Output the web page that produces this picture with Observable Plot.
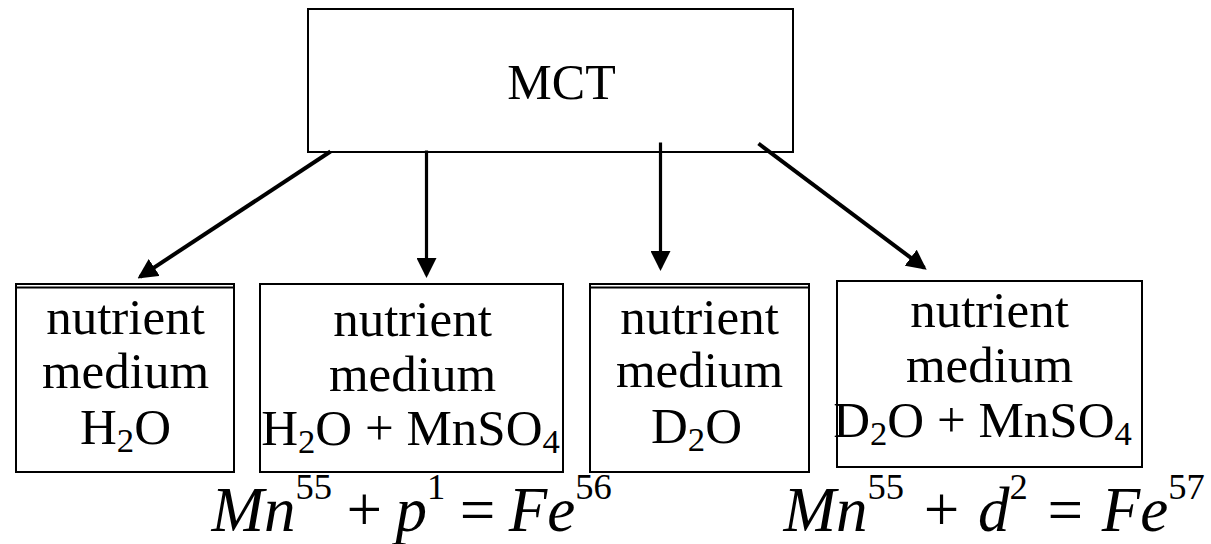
<!DOCTYPE html>
<html>
<head>
<meta charset="utf-8">
<script src="https://cdn.jsdelivr.net/npm/d3@7"></script>
<script src="https://cdn.jsdelivr.net/npm/@observablehq/plot@0.6"></script>
<style>
  html, body { margin: 0; padding: 0; background: #fff; }
  #chart svg { display: block; }
</style>
</head>
<body>
<div id="chart"></div>
<script>
// ---------- content ----------
const sourceLabel = ["MCT"];
const mediumLines = [
  ["nutrient", "medium", "H{_2}O"],
  ["nutrient", "medium", "H{_2}O + MnSO{_4}"],
  ["nutrient", "medium", "D{_2}O"],
  ["nutrient", "medium", "D{_2}O + MnSO{_4}"]
];
const reactions = ["Mn{^55} + p{^1} = Fe{^56}", "Mn{^55} + d{^2} = Fe{^57}"];

// ---------- layout (coordinates in the 1211 x 544 frame) ----------
const W = 1211, H = 544;
const sourceBox = {x1: 308, x2: 793, y1: 9, y2: 152, lx: 561, ly: 98};
const mediumBoxes = [
  {x1: 16,  x2: 234,  y1: 284, y2: 472, xs: [125, 125, 125], ys: [333, 387, 443], doubleTop: true},
  {x1: 260, x2: 563,  y1: 284, y2: 472, xs: [412, 412, 410], ys: [335, 390, 444], doubleTop: false},
  {x1: 590, x2: 809,  y1: 284, y2: 472, xs: [699, 699, 696], ys: [333, 386, 442], doubleTop: true},
  {x1: 837, x2: 1142, y1: 281, y2: 467, xs: [989, 989, 982], ys: [326, 381, 436], doubleTop: false}
];
const arrowLinks = [
  {x1: 330, y1: 151, x2: 139.5, y2: 276.3, w: 4},
  {x1: 426, y1: 150, x2: 426, y2: 274.5, w: 3.2},
  {x1: 660, y1: 142, x2: 660, y2: 267.5, w: 3.2},
  {x1: 758, y1: 143, x2: 923.8, y2: 267.4, w: 4}
];
const reactionPos = [{x: 211, y: 530, gap: "\u2006"}, {x: 783, y: 530, gap: " "}];

// ---------- tables built from the arrays ----------
const boxRows = [{...sourceBox}, ...mediumBoxes.map(b => ({...b}))];
const sourceText = sourceLabel.map(t => ({text: t, x: sourceBox.lx, y: sourceBox.ly}));
const mediumText = mediumLines.flatMap((lines, i) =>
  lines.map((t, j) => ({text: t, x: mediumBoxes[i].xs[j], y: mediumBoxes[i].ys[j]})));
const reactionText = reactions.map((t, i) => ({
  text: t.replace(/ /g, reactionPos[i].gap), x: reactionPos[i].x, y: reactionPos[i].y
}));
const doubleTops = mediumBoxes.filter(b => b.doubleTop);

function filledHead(color) {
  const ns = "http://www.w3.org/2000/svg";
  const m = document.createElementNS(ns, "marker");
  m.setAttribute("viewBox", "0 -5 10 10");
  m.setAttribute("markerUnits", "userSpaceOnUse");
  m.setAttribute("markerWidth", 20);
  m.setAttribute("markerHeight", 20);
  m.setAttribute("refX", 8.5);
  m.setAttribute("refY", 0);
  m.setAttribute("orient", "auto");
  m.setAttribute("preserveAspectRatio", "none");
  const p = document.createElementNS(ns, "path");
  p.setAttribute("d", "M0,-5L10,0L0,5Z");
  p.setAttribute("fill", color);
  p.setAttribute("stroke", "none");
  m.appendChild(p);
  return m;
}

const serif = "'Liberation Serif', 'Times New Roman', Times, serif";

const plot = Plot.plot({
  width: W,
  height: H,
  margin: 0,
  style: {background: "#fff", fontFamily: serif},
  x: {domain: [0, W], range: [0, W], axis: null},
  y: {domain: [0, H], range: [0, H], axis: null},
  marks: [
    Plot.rect(boxRows, {x1: "x1", x2: "x2", y1: "y1", y2: "y2", fill: "none", stroke: "black", strokeWidth: 2}),
    Plot.link(doubleTops, {x1: "x1", x2: "x2", y1: d => d.y1 + 3, y2: d => d.y1 + 3, stroke: "black", strokeWidth: 2}),
    Plot.link(arrowLinks, {x1: "x1", y1: "y1", x2: "x2", y2: "y2", stroke: "black", strokeWidth: d => d.w, markerEnd: filledHead}),
    Plot.text(sourceText, {x: "x", y: "y", text: "text", fontFamily: serif, fontSize: 50, fill: "black", textAnchor: "middle", lineAnchor: "bottom"}),
    Plot.text(mediumText, {x: "x", y: "y", text: "text", fontFamily: serif, fontSize: 51, fill: "black", textAnchor: "middle", lineAnchor: "bottom"}),
    Plot.text(reactionText, {x: "x", y: "y", text: "text", fontFamily: serif, fontSize: 63, fontStyle: "italic", fill: "black", textAnchor: "start", lineAnchor: "bottom"})
  ]
});

document.getElementById("chart").appendChild(plot);

// turn {_x} / {^x} markup into real sub/superscript tspans
const NS = "http://www.w3.org/2000/svg";
plot.querySelectorAll("text").forEach(el => {
  const s = el.textContent;
  if (!/\{[_^]/.test(s)) return;
  const fs = parseFloat(getComputedStyle(el).fontSize);
  el.textContent = "";
  let shift = 0;
  s.split(/(\{[_^][^}]*\})/).filter(Boolean).forEach(part => {
    const t = document.createElementNS(NS, "tspan");
    t.setAttribute("font-family", serif);
    let target = 0, txt = part;
    if (part.startsWith("{_")) {
      txt = part.slice(2, -1);
      target = 0.17 * fs;
      t.setAttribute("font-size", (0.68 * fs).toFixed(2));
    } else if (part.startsWith("{^")) {
      txt = part.slice(2, -1);
      target = -0.5 * fs;
      t.setAttribute("font-size", (0.58 * fs).toFixed(2));
      t.setAttribute("font-style", "normal");
    }
    const dy = target - shift;
    if (dy) t.setAttribute("dy", dy.toFixed(2));
    shift = target;
    t.textContent = txt;
    el.appendChild(t);
  });
});
</script>
</body>
</html>
